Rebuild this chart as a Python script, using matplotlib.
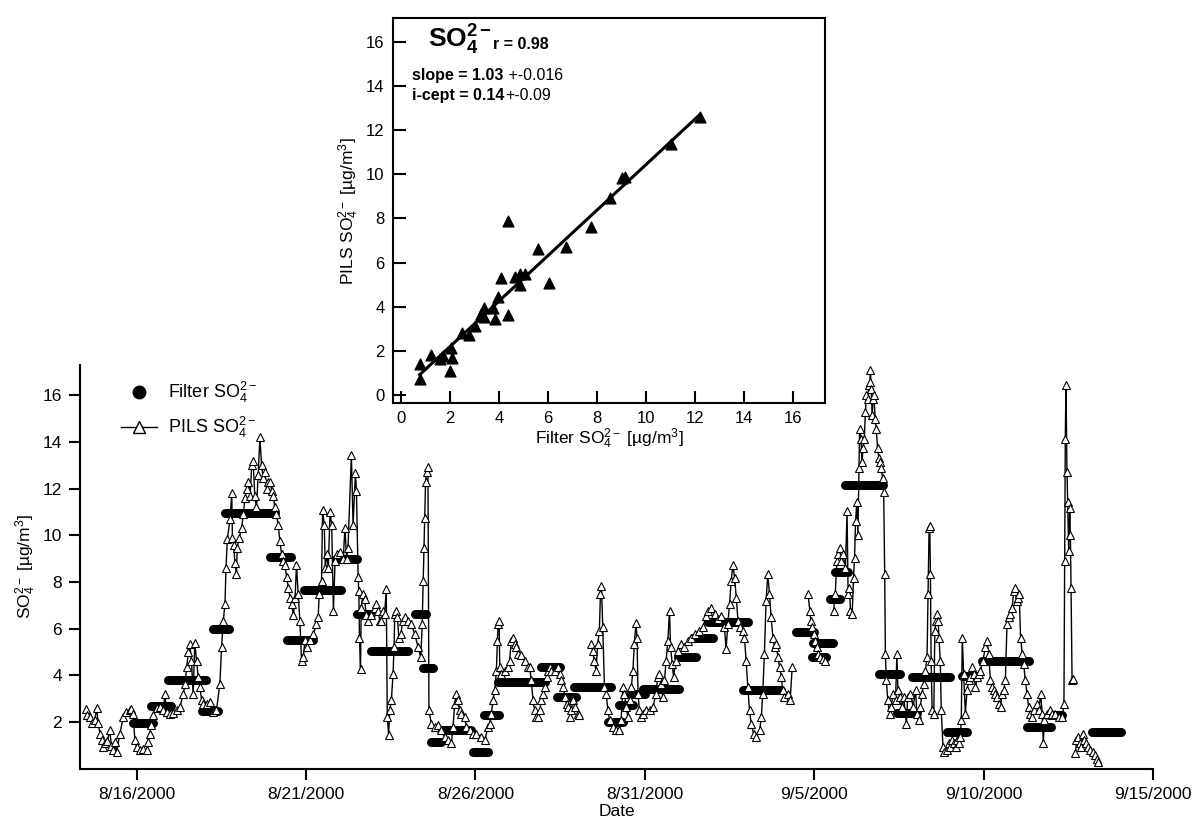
import numpy as np
import matplotlib
matplotlib.use('Agg')
import matplotlib.pyplot as plt
from matplotlib.lines import Line2D

plt.rcParams['font.family'] = ['Liberation Sans', 'DejaVu Sans']
plt.rcParams['mathtext.fontset'] = 'custom'
plt.rcParams['mathtext.rm'] = 'Liberation Sans'
plt.rcParams['mathtext.it'] = 'Liberation Sans:italic'
plt.rcParams['mathtext.bf'] = 'Liberation Sans:bold'

nan = float('nan')

# time axis in days counted from 31 Jul 2000 (so 36 = 9/5)
tick_days = [16, 21, 26, 31, 36, 41, 46]
tick_labels = ['8/16/2000', '8/21/2000', '8/26/2000', '8/31/2000',
               '9/5/2000', '9/10/2000', '9/15/2000']

# PILS sulfate (nan = data gap)
pils_day = [
    14.52, 14.54, 14.62, 14.70, 14.77, 14.82, 14.87, 14.92, 14.97, 15.02, 15.08, 15.14, 15.21, 15.26,
    15.31, 15.36, 15.41, 15.51, 15.61, 15.70, 15.80, 15.85, 15.90, 15.95, 16.00, 16.10, 16.20, 16.30,
    16.34, 16.39, 16.44, 16.49, 16.59, 16.69, 16.79, 16.84, 16.89, 16.99, 17.09, 17.19, 17.28, 17.38,
    17.43, 17.48, 17.53, 17.57, 17.62, 17.67, 17.72, 17.77, 17.82, 17.87, 17.92, 17.97, 18.07, 18.16,
    18.26, 18.31, 18.36, 18.46, 18.51, 18.56, 18.61, 18.64, 18.68, 18.76, 18.81, 18.83, 18.87, 18.90,
    18.95, 18.97, 19.03, 19.10, 19.15, 19.20, 19.25, 19.30, 19.35, 19.40, 19.44, 19.49, 19.54, 19.59,
    19.64, 19.69, 19.74, 19.79, 19.84, 19.89, 19.94, 19.99, 20.04, 20.08, 20.13, 20.18, 20.23, 20.28,
    20.33, 20.38, 20.43, 20.48, 20.53, 20.58, 20.63, 20.68, 20.72, 20.77, 20.82, 20.87, 20.92, 20.97,
    21.02, 21.12, 21.22, 21.31, 21.36, 21.39, 21.46, 21.49, 21.54, 21.57, 21.61, 21.66, 21.71, 21.76,
    21.81, 21.86, 21.91, 22.00, 22.10, 22.15, 22.20, 22.24, 22.34, 22.39, 22.46, 22.49, 22.54, 22.56,
    22.58, 22.61, 22.63, 22.68, 22.73, 22.78, 22.83, 22.93, 23.03, 23.08, 23.13, 23.18, 23.22, 23.27,
    23.32, 23.37, 23.40, 23.44, 23.47, 23.52, 23.57, 23.60, 23.62, 23.65, 23.70, 23.74, 23.80, 23.86,
    23.91, 24.01, 24.11, 24.21, 24.31, 24.39, 24.43, 24.46, 24.48, 24.50, 24.53, 24.56, 24.60, 24.63,
    24.70, 24.80, 24.90, 25.00, 25.09, 25.19, 25.29, 25.34, 25.39, 25.44, 25.49, 25.54, 25.59, 25.69,
    25.73, 25.83, 25.93, 26.03, 26.18, 26.28, 26.37, 26.42, 26.47, 26.52, 26.57, 26.62, 26.65, 26.67,
    26.70, 26.72, 26.77, 26.87, 26.96, 27.01, 27.06, 27.11, 27.16, 27.21, 27.26, 27.36, 27.46, 27.56,
    27.60, 27.65, 27.70, 27.75, 27.80, 27.85, 27.90, 27.95, 28.00, 28.05, 28.10, 28.15, 28.19, 28.24,
    28.34, 28.44, 28.49, 28.54, 28.59, 28.64, 28.69, 28.74, 28.79, 28.83, 28.88, 28.93, 29.03, 29.07,
    29.25,
    29.42, 29.46, 29.51, 29.56, 29.61, 29.66, 29.69, 29.72, 29.76, 29.81, 29.86, 29.91, 29.96, 30.06,
    30.15, 30.25, 30.30, 30.35, 30.40, 30.45, 30.50, 30.55, 30.60, 30.65, 30.69, 30.74, 30.77, 30.80,
    30.84, 30.89, 30.94, 31.04, 31.14, 31.24, 31.33, 31.38, 31.43, 31.48, 31.53, 31.58, 31.63, 31.68,
    31.73, 31.76, 31.81, 31.85, 31.91, 31.97, 32.07, 32.17, 32.27, 32.37, 32.47, 32.61, 32.71, 32.81,
    32.86, 32.96, 33.06, 33.16, 33.25, 33.35, 33.40, 33.45, 33.50, 33.55, 33.60, 33.65, 33.70, 33.75,
    33.80, 33.89, 33.94, 33.99, 34.04, 34.09, 34.14, 34.21, 34.29, 34.39, 34.44, 34.48, 34.53, 34.58,
    34.63, 34.68, 34.73, 34.78, 34.83, 34.88, 34.93, 34.98, 35.03, 35.07, 35.12, 35.22, 35.29, 35.35,
    35.60,
    35.82, 35.87, 35.90, 35.94, 35.99, 36.03, 36.07, 36.12, 36.17, 36.27, 36.31,
    36.45,
    36.57, 36.62, 36.67, 36.70, 36.75, 36.80, 36.85, 36.92, 36.97, 37.00, 37.04, 37.07, 37.12, 37.16,
    37.19, 37.22, 37.26, 37.29, 37.32, 37.34, 37.38, 37.41, 37.44, 37.48, 37.51, 37.54, 37.58, 37.61,
    37.64, 37.66, 37.68, 37.71, 37.74, 37.76, 37.80, 37.83, 37.87, 37.91, 37.95, 37.98, 38.02, 38.05,
    38.08, 38.10, 38.13, 38.17, 38.23, 38.27, 38.33, 38.40, 38.44, 38.47, 38.52, 38.59, 38.64, 38.72,
    38.76, 38.84, 38.92, 38.99, 39.03, 39.08, 39.13, 39.18, 39.23, 39.28, 39.33, 39.36, 39.39, 39.41,
    39.43, 39.45, 39.48, 39.53, 39.56, 39.59, 39.63, 39.66, 39.68, 39.72, 39.75, 39.80, 39.84, 39.92,
    39.97, 40.02, 40.07, 40.12, 40.17, 40.22, 40.27, 40.31, 40.34, 40.37, 40.41, 40.46, 40.51, 40.56,
    40.61, 40.66, 40.71, 40.76, 40.81, 40.86, 40.90, 40.98, 41.05, 41.10, 41.15, 41.20, 41.25, 41.30,
    41.35, 41.40, 41.45, 41.50, 41.54, 41.59, 41.64, 41.69, 41.74, 41.79, 41.84, 41.89, 41.92, 41.97,
    42.01, 42.05, 42.09, 42.14, 42.18, 42.23, 42.28, 42.33, 42.38, 42.43, 42.48, 42.58, 42.63, 42.68,
    42.73, 42.76, 42.79, 42.87, 42.95, 43.02, 43.12, 43.22, 43.32, 43.37, 43.39, 43.41, 43.43, 43.46,
    43.48, 43.51, 43.54, 43.56, 43.58, 43.61, 43.64,
    43.68,
    43.71, 43.74, 43.78, 43.84, 43.88, 43.92, 43.96, 44.01, 44.07, 44.15, 44.23, 44.30, 44.35, 44.38,
]
pils_val = [
    2.57, 2.30, 2.20, 1.95, 2.07, 2.60, 1.95, 1.50, 1.22, 0.94, 1.10, 1.20, 1.64, 0.95,
    0.79, 1.15, 0.72, 1.50, 2.21, 2.43, 2.50, 2.57, 2.36, 1.22, 0.94, 0.79, 0.85, 0.79,
    1.15, 1.50, 1.86, 2.28, 2.60, 2.64, 2.50, 3.20, 2.43, 2.36, 2.40, 2.50, 2.64, 3.20,
    3.64, 4.35, 4.98, 5.34, 4.63, 3.20, 5.40, 4.63, 3.92, 3.50, 2.93, 2.78, 2.78, 2.85,
    2.43, 2.50, 2.50, 3.64, 5.20, 6.34, 7.05, 8.60, 9.84, 10.70, 11.80, 9.90, 9.60, 8.80,
    8.33, 9.46, 9.90, 10.30, 10.90, 11.60, 12.00, 12.30, 11.70, 13.00, 13.20, 11.70, 11.20, 12.60,
    14.20, 13.00, 12.45, 12.70, 12.00, 12.30, 12.30, 11.90, 11.70, 11.20, 10.90, 10.46, 9.75, 9.20,
    8.90, 8.75, 8.20, 7.76, 7.33, 7.05, 6.60, 7.33, 8.75, 7.47, 6.34, 4.63, 4.77, 5.50,
    5.20, 5.50, 5.77, 6.19, 6.48, 7.47, 8.05, 11.10, 10.46, 8.60, 9.20, 8.60, 11.00, 10.46,
    6.76, 8.90, 9.18, 9.30, 9.00, 10.30, 9.00, 9.46, 13.45, 10.46, 12.66, 11.90, 8.20, 7.60,
    5.60, 4.27, 6.90, 7.47, 7.26, 6.60, 6.34, 6.60, 6.90, 7.05, 6.76, 6.34, 6.34, 6.76,
    6.62, 7.68, 2.20, 1.44, 2.50, 2.93, 4.06, 5.20, 6.62, 6.76, 6.48, 5.62, 5.77, 6.34,
    6.48, 6.34, 6.19, 5.77, 5.20, 4.77, 6.19, 8.05, 9.46, 10.74, 12.30, 12.73, 12.95, 2.50,
    1.93, 1.79, 1.86, 1.65, 1.36, 1.22, 1.08, 1.79, 2.78, 3.21, 2.93, 2.50, 2.36, 2.21,
    1.79, 1.65, 1.50, 1.50, 1.36, 1.22, 1.79, 1.93, 2.36, 2.93, 3.35, 4.20, 5.48, 6.19,
    6.34, 4.35, 4.06, 4.20, 4.35, 4.63, 5.48, 5.62, 5.34, 5.20, 4.92, 4.85, 4.63, 4.35,
    4.35, 3.78, 2.93, 2.50, 2.21, 2.21, 2.50, 2.93, 3.21, 3.49, 3.92, 4.20, 4.35, 4.20,
    4.20, 4.35, 4.06, 3.78, 3.49, 3.07, 2.78, 2.64, 2.21, 2.50, 2.93, 2.64, 2.36, 2.28,
    nan,
    5.34, 5.06, 4.63, 4.20, 5.34, 5.91, 7.47, 7.83, 6.05, 3.49, 3.21, 2.50, 2.07, 1.79,
    1.65, 1.65, 2.07, 3.49, 3.21, 2.64, 2.21, 2.93, 3.49, 4.20, 5.34, 6.26, 5.62, 3.21,
    2.50, 2.21, 2.36, 2.50, 2.50, 2.64, 3.21, 3.92, 4.06, 3.64, 3.07, 3.78, 4.63, 5.48,
    6.76, 5.20, 4.49, 3.92, 4.63, 5.06, 5.34, 5.20, 5.48, 5.62, 5.77, 5.91, 6.05, 6.55,
    6.76, 6.90, 6.62, 6.41, 6.55, 6.05, 5.13, 6.19, 7.05, 8.04, 8.75, 8.18, 7.33, 6.34,
    6.05, 5.91, 5.62, 4.63, 3.49, 2.50, 1.93, 1.50, 1.36, 1.65, 2.21, 3.21, 4.91, 7.19,
    8.33, 7.47, 6.48, 5.62, 5.20, 5.34, 4.77, 4.35, 3.92, 3.35, 3.07, 3.21, 2.93, 4.35,
    nan,
    7.47, 6.76, 6.34, 6.05, 5.77, 5.48, 5.20, 4.92, 4.77, 4.70, 4.63,
    nan,
    6.76, 7.47, 8.90, 9.18, 9.46, 8.90, 9.18, 8.61, 11.03, 7.47, 7.76, 6.76, 6.62, 8.18,
    9.04, 10.60, 11.45, 10.03, 12.88, 14.58, 14.15, 13.16, 13.73, 14.15, 15.29, 16.00, 15.86, 16.43,
    16.57, 17.07, 16.29, 15.15, 15.86, 16.00, 15.00, 14.58, 13.73, 13.30, 13.16, 12.88, 12.45, 11.88,
    8.33, 4.91, 3.78, 2.93, 2.36, 2.64, 3.21, 2.93, 4.91, 3.35, 3.07, 2.64, 3.07, 1.93,
    3.07, 3.21, 2.64, 3.35, 2.36, 2.07, 2.64, 3.21, 3.64, 4.20, 4.77, 7.47, 10.32, 10.39,
    8.33, 4.63, 2.50, 2.36, 5.91, 6.34, 6.62, 6.34, 5.62, 4.63, 2.50, 0.93, 0.72, 0.79,
    1.08, 0.93, 1.22, 1.08, 0.93, 1.22, 1.08, 1.36, 2.07, 5.62, 4.06, 2.36, 3.35, 3.78,
    3.92, 4.35, 4.06, 3.49, 3.92, 4.06, 4.20, 4.63, 5.20, 5.48, 4.91, 3.78, 3.49, 3.35,
    3.21, 3.07, 2.78, 2.64, 3.21, 3.35, 3.78, 6.19, 6.48, 6.62, 6.90, 7.61, 7.76, 7.19,
    7.33, 7.47, 5.62, 4.91, 4.49, 3.78, 3.21, 2.64, 2.36, 2.22, 2.50, 2.78, 2.50, 3.21,
    2.36, 1.08, 2.07, 2.36, 2.50, 2.36, 2.36, 2.22, 2.22, 2.78, 8.90, 14.15, 16.43, 12.73,
    11.45, 9.32, 11.17, 10.03, 7.76, 3.78, 3.85,
    nan,
    0.65, 1.22, 1.36, 1.08, 0.93, 1.50, 1.22, 1.08, 0.93, 0.79, 0.72, 0.58, 0.43, 0.29,
]

# filter samples: start day, end day, value
filt_start = [15.90, 16.44, 16.94, 17.92, 18.26, 18.61, 19.94, 20.43, 20.94, 21.90, 22.50, 22.93,
              24.21, 24.45, 24.68, 25.00, 25.93, 26.26, 26.67, 27.95, 28.40, 28.92, 29.90, 30.25,
              30.55, 30.94, 31.97, 32.42, 32.86, 33.90, 35.45, 35.97, 35.92, 36.46, 36.62, 36.91,
              37.90, 38.44, 38.89, 39.92, 40.36, 40.95, 42.28, 42.92, 44.20]
filt_end = [16.49, 17.03, 18.05, 18.41, 18.74, 20.08, 20.55, 21.22, 22.02, 22.50, 22.93, 24.00,
            24.55, 24.75, 25.00, 25.88, 26.37, 26.69, 28.05, 28.50, 28.97, 30.00, 30.36, 30.65,
            31.00, 32.02, 32.52, 33.00, 34.04, 35.03, 36.00, 36.56, 36.36, 36.77, 37.00, 38.03,
            38.54, 39.03, 40.02, 40.51, 40.81, 42.33, 43.00, 43.31, 45.04]
filt_val = [1.96, 2.68, 3.78, 2.46, 6.00, 10.96, 9.08, 5.51, 7.65, 8.97, 6.62, 5.03,
            6.62, 4.30, 1.15, 1.65, 0.72, 2.31, 3.71, 4.35, 3.07, 3.49, 2.00, 2.71,
            3.21, 3.42, 4.77, 5.62, 6.27, 3.35, 5.84, 5.40, 4.80, 7.26, 8.44, 12.14,
            4.06, 2.37, 3.92, 1.57, 3.95, 4.63, 1.79, 2.30, 1.57]

# correlation panel: filter vs PILS
scat_filter = [0.76, 0.79, 1.20, 1.58, 1.71, 1.99, 2.04, 2.08, 2.49, 2.76, 3.03, 3.27, 3.37, 3.40,
               3.82, 3.76, 3.95, 4.08, 4.37, 4.37, 4.63, 4.84, 4.84, 5.07, 5.58, 6.03, 6.71, 7.73,
               8.52, 9.02, 9.12, 11.02, 12.20]
scat_pils = [1.39, 0.71, 1.81, 1.61, 1.76, 1.08, 2.14, 1.69, 2.79, 2.74, 3.12, 3.69, 3.92, 3.54,
             3.43, 3.92, 4.44, 5.30, 3.64, 7.88, 5.35, 5.47, 4.97, 5.47, 6.60, 5.09, 6.70, 7.61,
             8.92, 9.83, 9.89, 11.37, 12.60]
fit_slope = 1.03
fit_icept = 0.14


def to_dates(days):
    mins = np.round(np.asarray(days, dtype=float) * 1440).astype('int64')
    return np.datetime64('2000-07-31T00:00') + mins.astype('timedelta64[m]')


fig = plt.figure(figsize=(11.95, 8.26), dpi=100)

# ---- time series ----
ax = fig.add_axes([0.0669, 0.0695, 0.8980, 0.4885])
for s, e, v in zip(filt_start, filt_end, filt_val):
    ax.plot(to_dates([s, e]), [v, v], color='black', lw=6.5, solid_capstyle='round', zorder=2)
ax.plot(to_dates(pils_day), pils_val, color='black', lw=1.0, marker='^', ms=5.5,
        mfc='white', mec='black', mew=0.8, zorder=3)

ax.set_xlim(to_dates([14.33, 46.0]))
ax.set_ylim(0, 17.3)
ax.set_xticks(to_dates(tick_days))
ax.set_xticklabels(tick_labels)
ax.set_yticks(range(2, 17, 2))
ax.spines['top'].set_visible(False)
ax.spines['right'].set_visible(False)
ax.spines['left'].set_linewidth(1.5)
ax.spines['bottom'].set_linewidth(1.5)
ax.tick_params(direction='out', length=8, width=1.5, labelsize=12.5, pad=5)
ax.set_xlabel('Date', fontsize=12.5, labelpad=2)
ax.set_ylabel('SO$_4^{2-}$ [µg/m$^3$]', fontsize=12.5, labelpad=3)

handles = [Line2D([], [], ls='none', marker='o', ms=9, color='black'),
           Line2D([], [], color='black', lw=1.0, marker='^', ms=8, mfc='white', mec='black')]
ax.legend(handles, ['Filter SO$_4^{2-}$', 'PILS SO$_4^{2-}$'], loc='upper left',
          bbox_to_anchor=(0.03, 0.985), frameon=False, fontsize=13, handlelength=2.0,
          borderpad=0, labelspacing=0.55, handletextpad=0.6)

# ---- inset scatter ----
ins = fig.add_axes([0.3289, 0.5121, 0.3615, 0.4656])
ins.set_facecolor('white')
ins.scatter(scat_filter, scat_pils, marker='^', s=60, color='black', zorder=3)
fx = np.array([min(scat_filter), max(scat_filter)])
ins.plot(fx, fit_icept + fit_slope * fx, color='black', lw=2.2, zorder=2)
ins.set_xlim(-0.33, 17.3)
ins.set_ylim(-0.36, 17.05)
ins.set_xticks(range(0, 17, 2))
ins.set_yticks(range(0, 17, 2))
for sp in ins.spines.values():
    sp.set_linewidth(1.5)
ins.tick_params(direction='in', length=9, width=1.5, labelsize=12, pad=6)
ins.set_xlabel('Filter SO$_4^{2-}$ [µg/m$^3$]', fontsize=12.5, labelpad=0)
ins.set_ylabel('PILS SO$_4^{2-}$ [µg/m$^3$]', fontsize=12.5, labelpad=4)

ins.text(1.11, 15.75, r'$\mathbf{SO_4^{2-}}$', fontsize=19, va='baseline')
ins.text(3.76, 15.65, 'r = 0.98', fontsize=11.5, fontweight='bold', va='baseline')
t1 = ins.text(0.46, 14.25, 'slope = 1.03', fontsize=11.5, fontweight='bold', va='baseline')
ins.annotate(' +-0.016', xy=(1, 14.25), xycoords=(t1, 'data'), fontsize=11.5, va='baseline')
t2 = ins.text(0.46, 13.35, 'i-cept = 0.14', fontsize=11.5, fontweight='bold', va='baseline')
ins.annotate('+-0.09', xy=(1, 13.35), xycoords=(t2, 'data'), fontsize=11.5, va='baseline')

fig.savefig('out.png', dpi=100)
